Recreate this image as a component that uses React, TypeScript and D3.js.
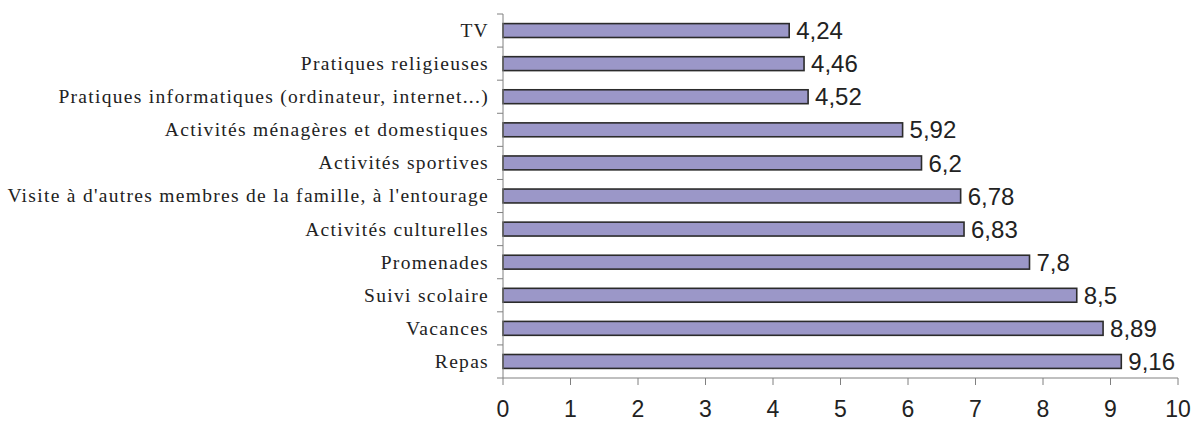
import React from "react";
import * as d3 from "d3";

const categories = [
  "TV",
  "Pratiques religieuses",
  "Pratiques informatiques (ordinateur, internet...)",
  "Activités ménagères et domestiques",
  "Activités sportives",
  "Visite à d'autres membres de la famille, à l'entourage",
  "Activités culturelles",
  "Promenades",
  "Suivi scolaire",
  "Vacances",
  "Repas",
];
const values = [4.24, 4.46, 4.52, 5.92, 6.2, 6.78, 6.83, 7.8, 8.5, 8.89, 9.16];
const valueLabels = ["4,24", "4,46", "4,52", "5,92", "6,2", "6,78", "6,83", "7,8", "8,5", "8,89", "9,16"];
const xTicks = [0, 1, 2, 3, 4, 5, 6, 7, 8, 9, 10];

export default function App() {
  const W = 1195, H = 423;
  const x = d3.scaleLinear().domain([0, 10]).range([503, 1178]);
  const y = d3.scaleBand<string>().domain(categories).range([14, 378]).paddingInner(0.58).paddingOuter(0.29);
  const step = y.step();
  const axisColor = "#808080";
  return (
    <svg width={W} height={H} style={{ position: "absolute", left: 0, top: 0 }}>
      {categories.map((c, i) => (
        <g key={c}>
          <rect
            x={x(0)}
            y={y(c)!}
            width={x(values[i]) - x(0)}
            height={y.bandwidth()}
            fill="#9b97c8"
            stroke="#2b2b2b"
            strokeWidth={1.6}
          />
          <text
            x={x(values[i]) + 7}
            y={y(c)! + y.bandwidth() / 2}
            dy="0.36em"
            fontFamily="Liberation Sans, Arial, sans-serif"
            fontSize={24}
            fill="#222"
          >
            {valueLabels[i]}
          </text>
          <text
            x={489}
            y={y(c)! + y.bandwidth() / 2}
            dy="0.33em"
            textAnchor="end"
            fontFamily="Liberation Serif, Times New Roman, serif"
            fontSize={19.5}
            letterSpacing={1.3}
            fill="#222"
          >
            {c}
          </text>
        </g>
      ))}
      {/* y axis */}
      <line x1={x(0)} x2={x(0)} y1={14} y2={378} stroke={axisColor} strokeWidth={1} />
      {d3.range(categories.length + 1).map((i) => (
        <line key={i} x1={x(0) - 6} x2={x(0)} y1={14 + i * step} y2={14 + i * step} stroke={axisColor} />
      ))}
      {/* x axis */}
      <line x1={x(0)} x2={x(10)} y1={378} y2={378} stroke={axisColor} />
      {xTicks.map((t) => (
        <g key={t}>
          <line x1={x(t)} x2={x(t)} y1={378} y2={385} stroke={axisColor} />
          <text
            x={x(t)}
            y={417}
            textAnchor="middle"
            fontFamily="Liberation Sans, Arial, sans-serif"
            fontSize={23}
            fill="#222"
          >
            {t}
          </text>
        </g>
      ))}
    </svg>
  );
}
